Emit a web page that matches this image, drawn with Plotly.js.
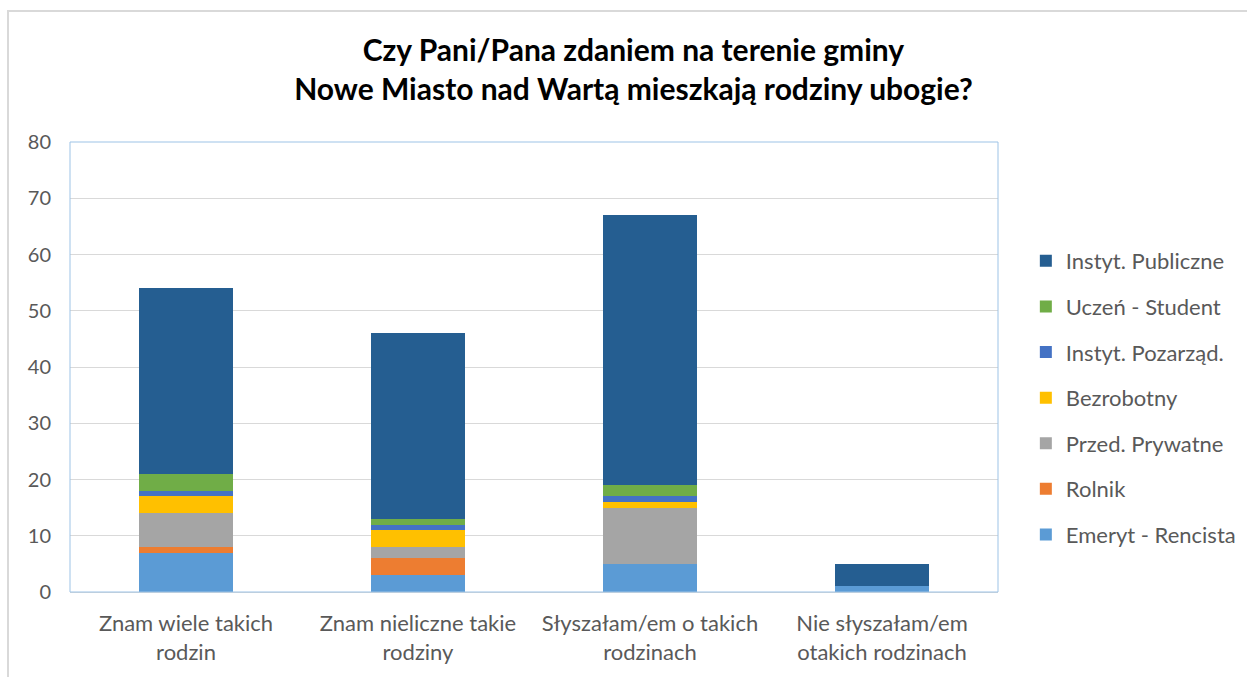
<!DOCTYPE html>
<html><head><meta charset="utf-8">
<script src="https://cdn.plot.ly/plotly-3.0.1.min.js"></script>
<style>
html,body{margin:0;padding:0;background:#fff;}
#wrap{position:absolute;left:7px;top:10px;width:1240px;height:667px;border-top:2px solid #d9d9d9;border-left:2px solid #d9d9d9;box-sizing:border-box;}
#chart{position:absolute;left:0;top:0;width:1247px;height:677px;}
</style></head>
<body>
<div id="wrap"></div>
<div id="chart"></div>
<script>
const categories = ["Znam wiele takich<br>rodzin","Znam nieliczne takie<br>rodziny","Słyszałam/em o takich<br>rodzinach","Nie słyszałam/em<br>otakich rodzinach"];
const seriesNames = ["Emeryt - Rencista","Rolnik","Przed. Prywatne","Bezrobotny","Instyt. Pozarząd.","Uczeń - Student","Instyt. Publiczne"];
const emeryt = [7,3,5,1];
const rolnik = [1,3,0,0];
const przed = [6,2,10,0];
const bezrobotny = [3,3,1,0];
const pozarzad = [1,1,1,0];
const uczen = [3,1,2,0];
const publiczne = [33,33,48,4];
const colors = ["#5b9bd5","#ed7d31","#a5a5a5","#ffc000","#4472c4","#70ad47","#255e91"];
const values = [emeryt,rolnik,przed,bezrobotny,pozarzad,uczen,publiczne];

const traces = values.map((v,i)=>({
  type:'bar', x:categories, y:v, name:seriesNames[i], legendgroup:'g'+i, legendrank:100-i,
  marker:{color:colors[i]}, hoverinfo:'skip'
}));

const FONT = 'Lato, Liberation Sans, sans-serif';
const layout = {
  width:1247, height:677,
  margin:{l:70,r:249,t:142,b:85,autoexpand:false},
  paper_bgcolor:'rgba(0,0,0,0)', plot_bgcolor:'#fff',
  barmode:'stack', bargap:0.595,
  title:{text:'<b>Czy Pani/Pana zdaniem na terenie gminy<br>Nowe Miasto nad Wartą mieszkają rodziny ubogie?</b>',
    font:{family:FONT,size:30,color:'#000'},
    x:0.508, xanchor:'center', xref:'container', y:0.91, yanchor:'middle'},
  font:{family:FONT,size:20,color:'#595959'},
  xaxis:{showline:true,linecolor:'#d9d9d9',linewidth:1,ticks:'',ticklabelstandoff:12,
    tickfont:{size:22,color:'#595959'}},
  yaxis:{range:[0,80],dtick:10,showgrid:true,gridcolor:'#d9d9d9',gridwidth:1,
    zeroline:false,showline:false,ticks:'',ticklabelstandoff:18,tickfont:{size:20,color:'#595959'}},
  legend:{traceorder:'grouped',x:1.03,xanchor:'left',y:0.431,yanchor:'middle',
    font:{size:22,color:'#595959'},tracegroupgap:14,itemwidth:30},
  shapes:[{type:'rect',xref:'paper',yref:'paper',x0:0,x1:1,y0:0,y1:1,line:{color:'#9dc3e6',width:1},layer:'above'}]
};
Plotly.newPlot('chart',traces,layout,{displayModeBar:false,staticPlot:true});
</script>
</body></html>
